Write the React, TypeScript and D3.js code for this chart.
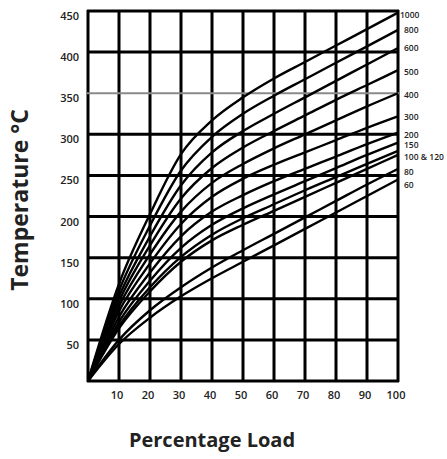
import React, { useEffect, useRef } from "react";
import * as d3 from "d3";

// load in %
const loads = [0, 10, 20, 30, 40, 50, 60, 70, 80, 90, 100];

// temperature (°C) for each curve
const t1000 = [0, 118, 203, 276, 317, 345, 368, 388, 408, 428, 448];
const t800 = [0, 110, 189, 256, 297, 325, 347, 367, 387, 407, 427];
const t600 = [0, 103, 176, 238, 278, 304, 325, 345, 365, 385, 405];
const t500 = [0, 97, 165, 222, 259, 284, 304, 323, 342, 360, 378];
const t400 = [0, 91, 154, 206, 241, 264, 283, 300, 317, 334, 350];
const t300 = [0, 85, 143, 191, 224, 246, 263, 278, 293, 308, 322];
const t200 = [0, 78, 132, 176, 206, 226, 243, 258, 273, 288, 302];
const t150 = [0, 72, 122, 162, 190, 210, 227, 243, 259, 275, 290];
const t120 = [0, 67, 114, 151, 178, 198, 215, 232, 248, 264, 280];
const t100 = [0, 64, 109, 145, 171, 190, 207, 224, 241, 258, 275];
const t80 = [0, 50, 86, 114, 138, 159, 179, 199, 219, 239, 258];
const t60 = [0, 45, 77, 103, 125, 145, 165, 185, 205, 225, 245];

const curves = [t1000, t800, t600, t500, t400, t300, t200, t150, t120, t100, t80, t60];

// labels at the right end and the temperature they sit at
const endLabels = ["1000", "800", "600", "500", "400", "300", "200", "150", "100 & 120", "80", "60"];
const endLabelAt = [445, 427, 405, 376, 348, 321, 299, 287, 272, 254, 238];

const xTicks = [10, 20, 30, 40, 50, 60, 70, 80, 90, 100];
const yTicks = [50, 100, 150, 200, 250, 300, 350, 400, 450];

const App = () => {
  const ref = useRef<SVGSVGElement>(null);

  useEffect(() => {
    const svg = d3.select(ref.current);
    svg.selectAll("*").remove();

    const x = d3.scaleLinear().domain([0, 100]).range([88, 398]);
    const y = d3.scaleLinear().domain([0, 450]).range([381, 11]);

    svg.append("rect").attr("width", 447).attr("height", 459).attr("fill", "#fff");

    const grid = svg.append("g");
    // vertical grid
    grid.selectAll(".v")
      .data(d3.range(0, 101, 10))
      .enter()
      .append("line")
        .attr("x1", d => x(d))
        .attr("x2", d => x(d))
        .attr("y1", y(450) - 1)
        .attr("y2", y(0) + 1)
        .attr("stroke", "#000")
        .attr("stroke-width", 3);
    // horizontal grid
    grid.selectAll(".h")
      .data(d3.range(0, 451, 50))
      .enter()
      .append("line")
        .attr("x1", x(0) - 1)
        .attr("x2", x(100) + 1)
        .attr("y1", d => y(d))
        .attr("y2", d => y(d))
        .attr("stroke", d => (d === 350 ? "#8a8a8a" : "#000"))
        .attr("stroke-width", d => (d === 350 ? 2 : 3));

    const line = d3.line<number>()
      .x((_, i) => x(loads[i]))
      .y(d => y(d))
      .curve(d3.curveMonotoneX);

    svg.append("g")
      .selectAll("path")
      .data(curves)
      .enter()
      .append("path")
        .attr("d", d => line(d))
        .attr("fill", "none")
        .attr("stroke", "#000")
        .attr("stroke-width", 2.4);

    // right end labels
    svg.append("g")
      .selectAll("text")
      .data(endLabels)
      .enter()
      .append("text")
        .attr("x", (d, i) => (i === 0 ? 400 : 404))
        .attr("y", (d, i) => y(endLabelAt[i]) + 3)
        .style("font-family", "'Open Sans', sans-serif")
        .style("font-size", "8.5px")
        .style("font-weight", 600)
        .attr("fill", "#222")
        .text(d => d);

    // x tick labels
    svg.append("g")
      .selectAll("text")
      .data(xTicks)
      .enter()
      .append("text")
        .attr("x", d => x(d) - 2)
        .attr("y", 399)
        .attr("text-anchor", "middle")
        .style("font-family", "'Open Sans', sans-serif")
        .style("font-size", "11px")
        .style("font-weight", 600)
        .attr("fill", "#222")
        .text(d => d);

    // y tick labels
    svg.append("g")
      .selectAll("text")
      .data(yTicks)
      .enter()
      .append("text")
        .attr("x", 79)
        .attr("y", d => y(d) + 9)
        .attr("text-anchor", "end")
        .style("font-family", "'Open Sans', sans-serif")
        .style("font-size", "11px")
        .style("font-weight", 600)
        .attr("fill", "#222")
        .text(d => d);

    // axis titles
    svg.append("text")
      .attr("x", 212)
      .attr("y", 447)
      .attr("text-anchor", "middle")
      .style("font-family", "'Open Sans', sans-serif")
      .style("font-size", "20px")
      .style("font-weight", 700)
      .attr("fill", "#222")
      .text("Percentage Load");

    svg.append("text")
      .attr("transform", "translate(28,200) rotate(-90)")
      .attr("text-anchor", "middle")
      .style("font-family", "'Open Sans', sans-serif")
      .style("font-size", "23px")
      .style("font-weight", 700)
      .attr("fill", "#222")
      .text("Temperature °C");
  }, []);

  return (
    <div style={{ position: "absolute", left: 0, top: 0 }}>
      <svg ref={ref} width={447} height={459} style={{ display: "block" }} />
    </div>
  );
};

export default App;
